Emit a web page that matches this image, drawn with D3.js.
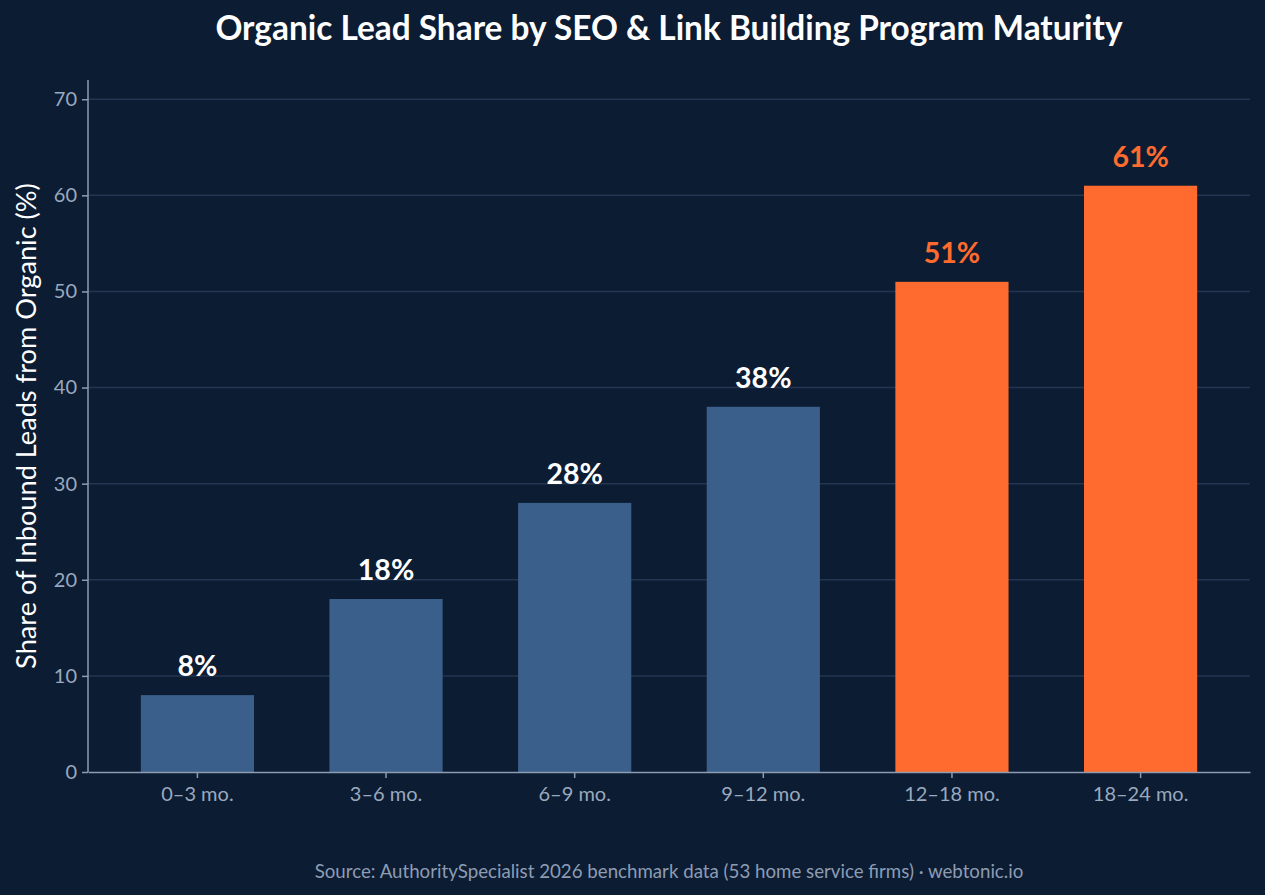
<!DOCTYPE html>
<html>
<head>
<meta charset="utf-8">
<script src="https://cdn.jsdelivr.net/npm/d3@7"></script>
<style>
  html, body { margin: 0; padding: 0; background: #0c1c33; }
  svg { display: block; font-family: Lato, 'Open Sans', sans-serif; }
</style>
</head>
<body>
<div id="chart"></div>
<script>
// data
const categories = ['0–3 mo.', '3–6 mo.', '6–9 mo.', '9–12 mo.', '12–18 mo.', '18–24 mo.'];
const shares = [8, 18, 28, 38, 51, 61];
const highlighted = [false, false, false, false, true, true];
const yTicks = [0, 10, 20, 30, 40, 50, 60, 70];

const width = 1265, height = 895;
const margin = {top: 80, right: 15, bottom: 123, left: 88};
const innerW = width - margin.left - margin.right;
const innerH = height - margin.top - margin.bottom;

const svg = d3.select('#chart').append('svg')
    .attr('width', width)
    .attr('height', height);

svg.append('rect')
    .attr('width', width)
    .attr('height', height)
    .attr('fill', '#0c1c33');

const g = svg.append('g')
    .attr('transform', 'translate(' + margin.left + ',' + margin.top + ')');

const x = d3.scaleBand()
    .domain(categories)
    .range([0, innerW])
    .paddingInner(0.4)
    .paddingOuter(0.28);

const y = d3.scaleLinear()
    .domain([0, 72])
    .range([innerH, 0]);

// grid
g.append('g')
    .selectAll('line')
    .data(yTicks.filter(d => d > 0))
    .enter().append('line')
    .attr('x1', 0)
    .attr('x2', innerW)
    .attr('y1', d => y(d))
    .attr('y2', d => y(d))
    .attr('stroke', '#233550')
    .attr('stroke-width', 1.5);

const rows = categories.map((c, i) => ({cat: c, value: shares[i], hi: highlighted[i]}));

g.selectAll('rect.bar')
    .data(rows)
    .enter().append('rect')
    .attr('class', 'bar')
    .attr('x', d => x(d.cat))
    .attr('y', d => y(d.value))
    .attr('width', x.bandwidth())
    .attr('height', d => innerH - y(d.value))
    .attr('fill', d => d.hi ? '#ff6b2e' : '#3a5f8a');

g.selectAll('text.val')
    .data(rows)
    .enter().append('text')
    .attr('class', 'val')
    .attr('x', d => x(d.cat) + x.bandwidth() / 2)
    .attr('y', d => y(d.value) - 19)
    .attr('text-anchor', 'middle')
    .attr('font-size', 28.5)
    .attr('font-weight', 700)
    .attr('fill', d => d.hi ? '#ff6b2e' : '#ffffff')
    .text(d => d.value + '%');

// axes
const yAxis = g.append('g')
    .call(d3.axisLeft(y).tickValues(yTicks).tickSize(6).tickPadding(5));
const xAxis = g.append('g')
    .attr('transform', 'translate(0,' + innerH + ')')
    .call(d3.axisBottom(x).tickSize(6).tickPadding(9).tickSizeOuter(0));

[yAxis, xAxis].forEach(a => {
    a.select('.domain').attr('stroke', '#8d9cb3').attr('stroke-width', 1.5);
    a.selectAll('.tick line').attr('stroke', '#8d9cb3').attr('stroke-width', 1.5);
    a.selectAll('.tick text')
        .attr('fill', '#9aa9be')
        .attr('font-size', 20)
        .attr('font-family', 'Lato, sans-serif');
});
yAxis.select('.domain').attr('d', 'M0,0V' + innerH);

// title
svg.append('text')
    .attr('x', margin.left + innerW / 2)
    .attr('y', 40)
    .attr('text-anchor', 'middle')
    .attr('font-size', 33.4)
    .attr('font-weight', 700)
    .attr('fill', '#ffffff')
    .text('Organic Lead Share by SEO & Link Building Program Maturity');

// y axis label
svg.append('text')
    .attr('transform', 'translate(36,' + (margin.top + innerH / 2) + ') rotate(-90)')
    .attr('text-anchor', 'middle')
    .attr('font-size', 27.2)
    .attr('fill', '#ffffff')
    .text('Share of Inbound Leads from Organic (%)');

// source
svg.append('text')
    .attr('x', margin.left + innerW / 2)
    .attr('y', 878)
    .attr('text-anchor', 'middle')
    .attr('font-size', 18.7)
    .attr('fill', '#8d9cb3')
    .text('Source: AuthoritySpecialist 2026 benchmark data (53 home service firms) · webtonic.io');
</script>
</body>
</html>
